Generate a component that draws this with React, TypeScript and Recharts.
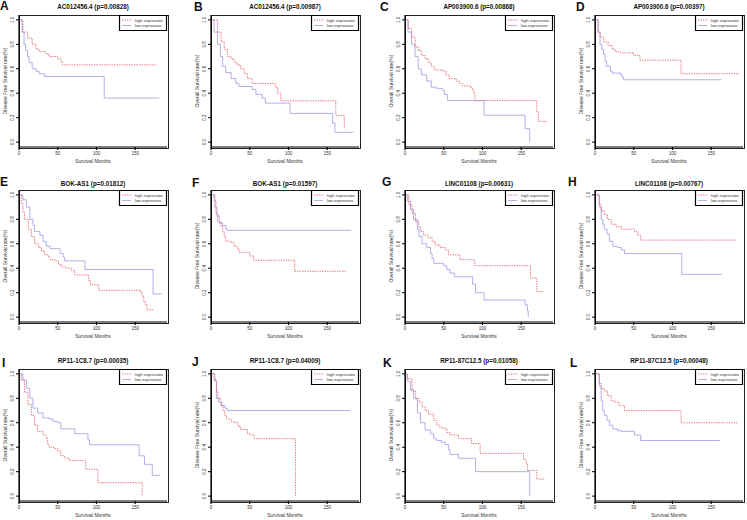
import React from 'react';
import { LineChart, Line, XAxis, YAxis, Legend } from 'recharts';

type Pt = [number, number];

// survival steps: [month, survival]
const A_HIGH: Pt[] = [[0, 1], [5, 0.9], [11, 0.85], [17, 0.8], [22, 0.76], [26, 0.74], [35, 0.72], [39, 0.7], [50, 0.68], [54, 0.66], [56, 0.632], [176, 0.632]];
const A_LOW: Pt[] = [[0, 1], [4, 0.9], [6.5, 0.8], [8.6, 0.75], [11, 0.7], [13, 0.65], [17, 0.6], [22, 0.58], [26, 0.56], [33, 0.537], [110, 0.36], [181, 0.36]];
const B_HIGH: Pt[] = [[0, 1], [8.5, 0.9], [13, 0.82], [17, 0.76], [21, 0.7], [26, 0.68], [30, 0.65], [34, 0.63], [38, 0.6], [43, 0.56], [47, 0.52], [53, 0.48], [83, 0.45], [86, 0.4], [90, 0.338], [161, 0.218], [172, 0.11], [173, 0.11]];
const B_LOW: Pt[] = [[0, 1], [4, 0.9], [8.5, 0.8], [12, 0.7], [15, 0.62], [19, 0.57], [26, 0.52], [32, 0.48], [36, 0.455], [53, 0.43], [58, 0.39], [66, 0.36], [70, 0.319], [102, 0.235], [157, 0.155], [160, 0.08], [184, 0.08]];
const C_HIGH: Pt[] = [[0, 1], [4, 0.93], [8.5, 0.86], [13, 0.78], [17, 0.75], [21, 0.71], [26, 0.68], [30, 0.65], [34, 0.62], [38, 0.59], [49, 0.58], [53, 0.55], [57, 0.52], [66, 0.5], [70, 0.48], [74, 0.46], [85, 0.44], [88, 0.41], [90, 0.34], [170, 0.25], [172, 0.17], [183, 0.17]];
const C_LOW: Pt[] = [[0, 1], [4, 0.9], [8.5, 0.8], [13, 0.7], [17, 0.6], [21, 0.55], [28, 0.5], [34, 0.45], [40, 0.44], [49, 0.42], [51, 0.39], [55, 0.34], [102, 0.22], [155, 0.11], [161, 0]];
const D_HIGH: Pt[] = [[0, 1], [4, 0.9], [6.5, 0.86], [11, 0.82], [17, 0.79], [22, 0.76], [26, 0.74], [33, 0.73], [50, 0.71], [58, 0.67], [111, 0.56], [186, 0.56]];
const D_LOW: Pt[] = [[0, 1], [4, 0.9], [6.5, 0.8], [8.7, 0.76], [11, 0.72], [13, 0.66], [15, 0.62], [20, 0.58], [22, 0.565], [33, 0.55], [35, 0.53], [37, 0.51], [163, 0.51]];
const E_HIGH: Pt[] = [[0, 1], [3, 0.93], [5, 0.86], [7, 0.8], [12, 0.72], [16, 0.66], [20, 0.6], [25, 0.57], [29, 0.54], [33, 0.51], [38, 0.49], [40, 0.47], [46, 0.46], [51, 0.43], [55, 0.41], [61, 0.4], [68, 0.38], [72, 0.345], [90, 0.3], [92, 0.265], [103, 0.22], [157, 0.2], [159, 0.17], [161, 0.13], [163, 0.1], [165, 0.06], [174, 0.06]];
const E_LOW: Pt[] = [[0, 1], [5, 0.96], [9.5, 0.9], [14, 0.8], [18, 0.75], [20, 0.7], [27, 0.67], [31, 0.62], [35, 0.58], [40, 0.56], [53, 0.52], [57, 0.49], [59, 0.46], [85, 0.39], [173, 0.19], [184, 0.19]];
const F_HIGH: Pt[] = [[0, 1], [4, 0.95], [6.4, 0.85], [8.5, 0.78], [13, 0.74], [15, 0.7], [17, 0.66], [19, 0.62], [26, 0.61], [30, 0.58], [34, 0.56], [36, 0.53], [50, 0.5], [55, 0.465], [108, 0.375], [174, 0.375]];
const F_LOW: Pt[] = [[0, 1], [5, 0.9], [7.7, 0.83], [10.6, 0.77], [15, 0.75], [19, 0.72], [21, 0.71], [181, 0.71]];
const G_HIGH: Pt[] = [[0, 1], [5, 0.92], [9, 0.85], [13.5, 0.78], [18, 0.74], [20, 0.7], [24, 0.67], [30, 0.65], [35, 0.62], [39, 0.59], [45, 0.57], [52, 0.55], [56, 0.51], [71, 0.47], [90, 0.42], [162, 0.32], [170, 0.21], [179, 0.21]];
const G_LOW: Pt[] = [[0, 1], [3, 0.95], [7, 0.88], [11, 0.8], [16, 0.72], [18, 0.66], [22, 0.6], [28, 0.57], [33, 0.52], [35, 0.48], [37, 0.44], [50, 0.42], [54, 0.39], [58, 0.36], [64, 0.33], [87, 0.27], [91, 0.2], [102, 0.14], [155, 0.1], [158, 0.05], [159, 0]];
const H_HIGH: Pt[] = [[0, 1], [5.5, 0.92], [8, 0.87], [12, 0.84], [16, 0.8], [21, 0.76], [27, 0.74], [34, 0.72], [51, 0.7], [55, 0.67], [59, 0.63], [184, 0.63]];
const H_LOW: Pt[] = [[0, 1], [5.5, 0.9], [8, 0.8], [10, 0.76], [12, 0.72], [15.6, 0.68], [18.6, 0.62], [23, 0.58], [29, 0.57], [34, 0.55], [38, 0.52], [112, 0.35], [164, 0.35]];
const I_HIGH: Pt[] = [[0, 1], [3, 0.95], [7, 0.85], [11.5, 0.75], [16, 0.66], [20, 0.58], [24, 0.53], [31, 0.5], [35, 0.48], [37, 0.42], [39, 0.4], [46, 0.39], [50, 0.37], [54, 0.33], [59, 0.31], [65, 0.29], [86, 0.22], [102, 0.11], [159, 0]];
const I_LOW: Pt[] = [[0, 1], [5, 0.95], [9.5, 0.88], [14, 0.8], [18, 0.72], [24, 0.68], [31, 0.64], [39, 0.63], [44, 0.61], [50, 0.6], [54, 0.55], [72, 0.51], [89, 0.46], [91, 0.42], [155, 0.33], [162, 0.26], [172, 0.17], [182, 0.17]];
const J_HIGH: Pt[] = [[0, 1], [4, 0.95], [7, 0.86], [9, 0.8], [12.7, 0.74], [15.7, 0.7], [17.8, 0.66], [20, 0.63], [26, 0.61], [30.5, 0.6], [35, 0.57], [38, 0.545], [47, 0.51], [51, 0.5], [56, 0.47], [109, 0]];
const J_LOW: Pt[] = [[0, 1], [5, 0.94], [7, 0.8], [10, 0.77], [13.5, 0.74], [18, 0.72], [21, 0.7], [180, 0.7]];
const K_HIGH: Pt[] = [[0, 1], [3, 0.96], [9, 0.86], [13.5, 0.8], [18, 0.77], [22, 0.73], [26, 0.7], [30.5, 0.67], [37, 0.62], [41, 0.58], [45, 0.56], [50, 0.55], [54, 0.52], [58, 0.5], [69, 0.47], [86, 0.43], [97, 0.35], [153, 0.3], [156, 0.27], [158, 0.21], [170, 0.14], [181, 0.14]];
const K_LOW: Pt[] = [[0, 1], [3, 0.94], [7, 0.87], [11, 0.8], [16, 0.68], [20, 0.6], [26, 0.54], [33, 0.51], [37, 0.47], [41, 0.455], [47, 0.44], [52, 0.42], [56, 0.38], [58, 0.34], [69, 0.31], [91, 0.2], [161, 0]];
const L_HIGH: Pt[] = [[0, 1], [5.6, 0.92], [8, 0.88], [12, 0.86], [16, 0.82], [21, 0.78], [25, 0.77], [31, 0.74], [38, 0.7], [111, 0.6], [184, 0.6]];
const L_LOW: Pt[] = [[0, 1], [5.6, 0.9], [8, 0.78], [10, 0.7], [12, 0.66], [15.5, 0.62], [18.5, 0.58], [23, 0.55], [29, 0.535], [34, 0.53], [51, 0.5], [59, 0.455], [161, 0.455]];

const LETTERS = ['A', 'B', 'C', 'D', 'E', 'F', 'G', 'H', 'I', 'J', 'K', 'L'];
const TITLES = [
  'AC012456.4 (p=0.00828)', 'AC012456.4 (p=0.00987)', 'AP003900.6 (p=0.00868)', 'AP003900.6 (p=0.00397)',
  'BOK-AS1 (p=0.01812)', 'BOK-AS1 (p=0.01597)', 'LINC01108 (p=0.00631)', 'LINC01108 (p=0.00767)',
  'RP11-1C8.7 (p=0.00035)', 'RP11-1C8.7 (p=0.04009)', 'RP11-87C12.5 (p=0.01058)', 'RP11-87C12.5 (p=0.00048)',
];
const DFS = 'Disease Free Survival rate(%)';
const OS = 'Overall Survival rate(%)';
const Y_LABELS = [DFS, OS, OS, DFS, OS, DFS, OS, DFS, OS, DFS, OS, DFS];
const HIGH = [A_HIGH, B_HIGH, C_HIGH, D_HIGH, E_HIGH, F_HIGH, G_HIGH, H_HIGH, I_HIGH, J_HIGH, K_HIGH, L_HIGH];
const LOW = [A_LOW, B_LOW, C_LOW, D_LOW, E_LOW, F_LOW, G_LOW, H_LOW, I_LOW, J_LOW, K_LOW, L_LOW];
const LEGEND_NAMES = ['high expression', 'low expression'];
const X_TICKS = [0, 50, 100, 150];
const Y_TICKS = [0, 0.2, 0.4, 0.6, 0.8, 1];
const X_LABEL = 'Survival Months';

// layout
const X_MAX = 191;
const Y_MIN = -0.04;
const Y_MAX = 1.04;
const BOX_W = 148;
const BOX_H = 132;
const ML = 19;
const MT = 15;
const MR = 3;
const MB = 20;
const COL_X = [19, 211, 405, 595];
const ROW_Y = [15, 190, 369];
const TITLE_Y = [7, 184, 361];
const LETTER_POS = [[0, 2], [194, 3], [380, 3], [576, 3], [0, 178], [192, 179], [382, 178], [568, 178], [2, 359], [192, 358], [383, 359], [570, 359]];

const RED = '#e4505a';
const BLUE = '#9c9ce6';
const FRAME = '#000000';
const FONT = '"Liberation Sans", Arial, sans-serif';

const toRows = (pts: Pt[]) => pts.map(([t, s]) => ({ t, s }));

const YTick = (props: any) => {
  const { x, y, payload } = props;
  return (
    <g>
      <line x1={x + 1.5} x2={x + 4.5} y1={y} y2={y} stroke={FRAME} strokeWidth={1} />
      <text x={x} y={y} transform={`rotate(-90 ${x} ${y})`} textAnchor="middle" fontSize={4.6} fill="#333" fontFamily={FONT}>
        {Number(payload.value).toFixed(1)}
      </text>
    </g>
  );
};

const LegendBox = () => (
  <svg width={48} height={16} style={{ display: 'block', overflow: 'visible' }}>
    <path d="M0.5 0.5 H47.5 V15.5 H0.5 Z" fill="#fff" stroke={FRAME} strokeWidth={1.2} />
    <line x1={3} x2={12} y1={5} y2={5} stroke={RED} strokeWidth={0.8} strokeDasharray="1.4 1.1" />
    <line x1={3} x2={12} y1={10.5} y2={10.5} stroke={BLUE} strokeWidth={0.8} />
    <text x={16} y={6.5} fontSize={4} fill="#333" fontFamily={FONT}>{LEGEND_NAMES[0]}</text>
    <text x={16} y={12} fontSize={4} fill="#333" fontFamily={FONT}>{LEGEND_NAMES[1]}</text>
  </svg>
);

const frameLine = { stroke: FRAME, strokeWidth: 1.2 };

const KMPanel = ({ i }: { i: number }) => {
  const left = COL_X[i % 4];
  const top = ROW_Y[Math.floor(i / 4)];
  const titleY = TITLE_Y[Math.floor(i / 4)];
  return (
    <>
      <div style={{ position: 'absolute', left: LETTER_POS[i][0], top: LETTER_POS[i][1] - 1.6, fontSize: 12, lineHeight: '12px', fontWeight: 700, color: '#111' }}>
        {LETTERS[i]}
      </div>
      <div style={{ position: 'absolute', left: left, width: BOX_W, top: titleY - 4, lineHeight: '8px', fontSize: 6.3, fontWeight: 700, textAlign: 'center', color: '#111' }}>
        {TITLES[i]}
      </div>
      {/* R-style plot frame */}
      <div style={{ position: 'absolute', left: left - 0.5, top: top - 0.5, width: BOX_W, height: BOX_H, border: '1px solid #222' }} />
      <div style={{ position: 'absolute', left: left - ML, top: top - MT }}>
        <LineChart width={ML + BOX_W + MR} height={MT + BOX_H + MB} margin={{ top: MT, right: MR, left: 0, bottom: 0 }}>
          <XAxis
            type="number"
            dataKey="t"
            domain={[0, X_MAX]}
            ticks={X_TICKS}
            allowDataOverflow
            axisLine={frameLine}
            tickLine={frameLine}
            tickSize={3}
            tickMargin={2}
            height={MB}
            tick={{ fontSize: 4.6, fill: '#333', fontFamily: FONT }}
            label={(p: any) => {
              const vb = p.viewBox;
              return (
                <text x={vb.x + vb.width / 2} y={vb.y + 15.6} textAnchor="middle" fontSize={5} fill="#333" fontFamily={FONT}>
                  {X_LABEL}
                </text>
              );
            }}
          />
          <YAxis
            type="number"
            domain={[Y_MIN, Y_MAX]}
            ticks={Y_TICKS}
            allowDataOverflow
            axisLine={frameLine}
            tickLine={false}
            width={ML}
            tickSize={3}
            tickMargin={1.5}
            tick={YTick}
            label={(p: any) => {
              const vb = p.viewBox;
              const cx = 6.8;
              const cy = vb.y + vb.height / 2;
              return (
                <text x={cx} y={cy} transform={`rotate(-90 ${cx} ${cy})`} textAnchor="middle" fontSize={5} fill="#333" fontFamily={FONT}>
                  {Y_LABELS[i]}
                </text>
              );
            }}
          />
          <Line data={toRows(LOW[i])} dataKey="s" type="stepAfter" stroke={BLUE} strokeWidth={0.8} dot={false} activeDot={false} isAnimationActive={false} />
          <Line data={toRows(HIGH[i])} dataKey="s" type="stepAfter" stroke={RED} strokeWidth={0.8} strokeDasharray="1.4 1.1" dot={false} activeDot={false} isAnimationActive={false} />
          <Legend
            content={LegendBox}
            layout="vertical"
            align="center"
            verticalAlign="middle"
            wrapperStyle={{ top: MT, left: ML + BOX_W - 48, width: 48, height: 16 }}
          />
        </LineChart>
      </div>
    </>
  );
}

export default function App() {
  return (
    <div style={{ position: 'absolute', left: 0, top: 0, width: 747, height: 520, background: '#fff', fontFamily: FONT, overflow: 'hidden' }}>
      {LETTERS.map((_, i) => (
        <KMPanel key={i} i={i} />
      ))}
    </div>
  );
}
